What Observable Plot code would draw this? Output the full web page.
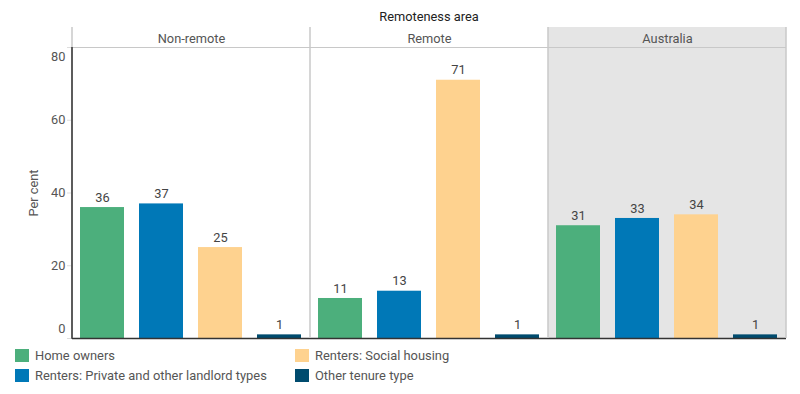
<!DOCTYPE html>
<html>
<head>
<meta charset="utf-8">
<script src="https://cdn.jsdelivr.net/npm/d3@7"></script>
<script src="https://cdn.jsdelivr.net/npm/@observablehq/plot@0.6"></script>
<style>
  body { margin: 0; background: #fff; font-family: Roboto, "Noto Sans", sans-serif; }
  #chart { width: 800px; }
  .legend { display: grid; grid-template-columns: 280px 280px; grid-template-rows: 20px 20px; grid-auto-flow: column; padding-left: 15px; margin-top: 3px; font-size: 12.9px; color: #555; }
  .item { display: flex; align-items: center; }
  .sw { width: 14px; height: 13px; margin-right: 6px; display: inline-block; }
</style>
</head>
<body>
<div id="chart"></div>
<script>
const regions = ["Non-remote", "Remote", "Australia"];
const tenures = ["Home owners", "Renters: Private and other landlord types", "Renters: Social housing", "Other tenure type"];
const nonRemote = [36, 37, 25, 1];
const remote = [11, 13, 71, 1];
const australia = [31, 33, 34, 1];
const colors = ["#4caf7c", "#0078b7", "#fed28f", "#004b6e"];
const yTicks = [0, 20, 40, 60, 80];
const facetTitle = "Remoteness area";

const series = [nonRemote, remote, australia];
const data = [];
regions.forEach((r, i) => tenures.forEach((t, j) => data.push({region: r, tenure: t, value: series[i][j]})));

const font = "Roboto, 'Noto Sans', sans-serif";
const plot = Plot.plot({
  width: 800,
  height: 342,
  marginLeft: 71,
  marginRight: 13,
  marginTop: 47,
  marginBottom: 4,
  style: {fontFamily: font, fontSize: "12.5px", color: "#555", background: "#fff"},
  fx: {domain: regions, padding: 0},
  x: {domain: tenures, paddingInner: 0.25, paddingOuter: 0.125, axis: null},
  y: {domain: [0, 80]},
  color: {domain: tenures, range: colors},
  marks: [
    Plot.rect([{region: "Australia"}], {fx: "region", fill: "#e5e5e5", insetTop: -20}),
    Plot.ruleY([80], {stroke: "#c8c8c8"}),
    Plot.barY(data, {fx: "region", x: "tenure", y: "value", fill: "tenure"}),
    Plot.text(data, {fx: "region", x: "tenure", y: "value", text: d => String(d.value), dy: -10, fill: "#444", fontSize: 12.8}),
    Plot.ruleY([0], {stroke: "#333", strokeWidth: 1.5}),
    Plot.axisY(yTicks.slice(1, -1), {tickSize: 5, tickPadding: 2, stroke: "#ddd", fill: "#555", fontSize: 12.8, label: "Per cent", labelAnchor: "center", labelOffset: 44, labelArrow: "none"}),
    Plot.axisY([yTicks[0], yTicks[yTicks.length - 1]], {tickSize: 5, tickFormat: () => "", stroke: "#ddd", label: null}),
    Plot.axisY([yTicks[yTicks.length - 1]], {tickSize: 0, tickPadding: 7, dy: 9, fill: "#555", fontSize: 12.8, label: null}),
    Plot.axisY([yTicks[0]], {tickSize: 0, tickPadding: 7, dy: -10, fill: "#555", fontSize: 12.8, label: null}),
    Plot.axisFx({anchor: "top", tickSize: 0, tickPadding: 5, fill: "#555", fontSize: 12.8, label: null})
  ]
});

// panel dividers, left axis line and facet title, positioned through the plot's own scales
const fx = plot.scale("fx");
const y = plot.scale("y");
const svg = d3.select(plot.tagName === "svg" ? plot : plot.querySelector("svg"));
const yTop = y.apply(80), yBot = y.apply(0);
const edges = regions.map(r => fx.apply(r)).concat([fx.apply(regions[regions.length - 1]) + fx.bandwidth]);
svg.append("g").selectAll("line").data(edges).join("line")
  .attr("x1", d => d).attr("x2", d => d)
  .attr("y1", yTop - 20).attr("y2", yBot)
  .attr("stroke", "#c8c8c8").attr("stroke-width", 1.5);
svg.append("line")
  .attr("x1", edges[0]).attr("x2", edges[0]).attr("y1", yTop).attr("y2", yBot + 0.75)
  .attr("stroke", "#333").attr("stroke-width", 1.5);
svg.append("text")
  .attr("x", (edges[0] + edges[edges.length - 1]) / 2).attr("y", yTop - 26)
  .attr("text-anchor", "middle").attr("fill", "#222")
  .attr("font-family", font).attr("font-size", 12.8).attr("font-weight", "normal")
  .text(facetTitle);

document.getElementById("chart").append(plot);

const legend = d3.select("#chart").append("div").attr("class", "legend");
const items = legend.selectAll("div").data(tenures).join("div").attr("class", "item");
items.append("span").attr("class", "sw").style("background", (d, i) => colors[i]);
items.append("span").text(d => d);
</script>
</body>
</html>
